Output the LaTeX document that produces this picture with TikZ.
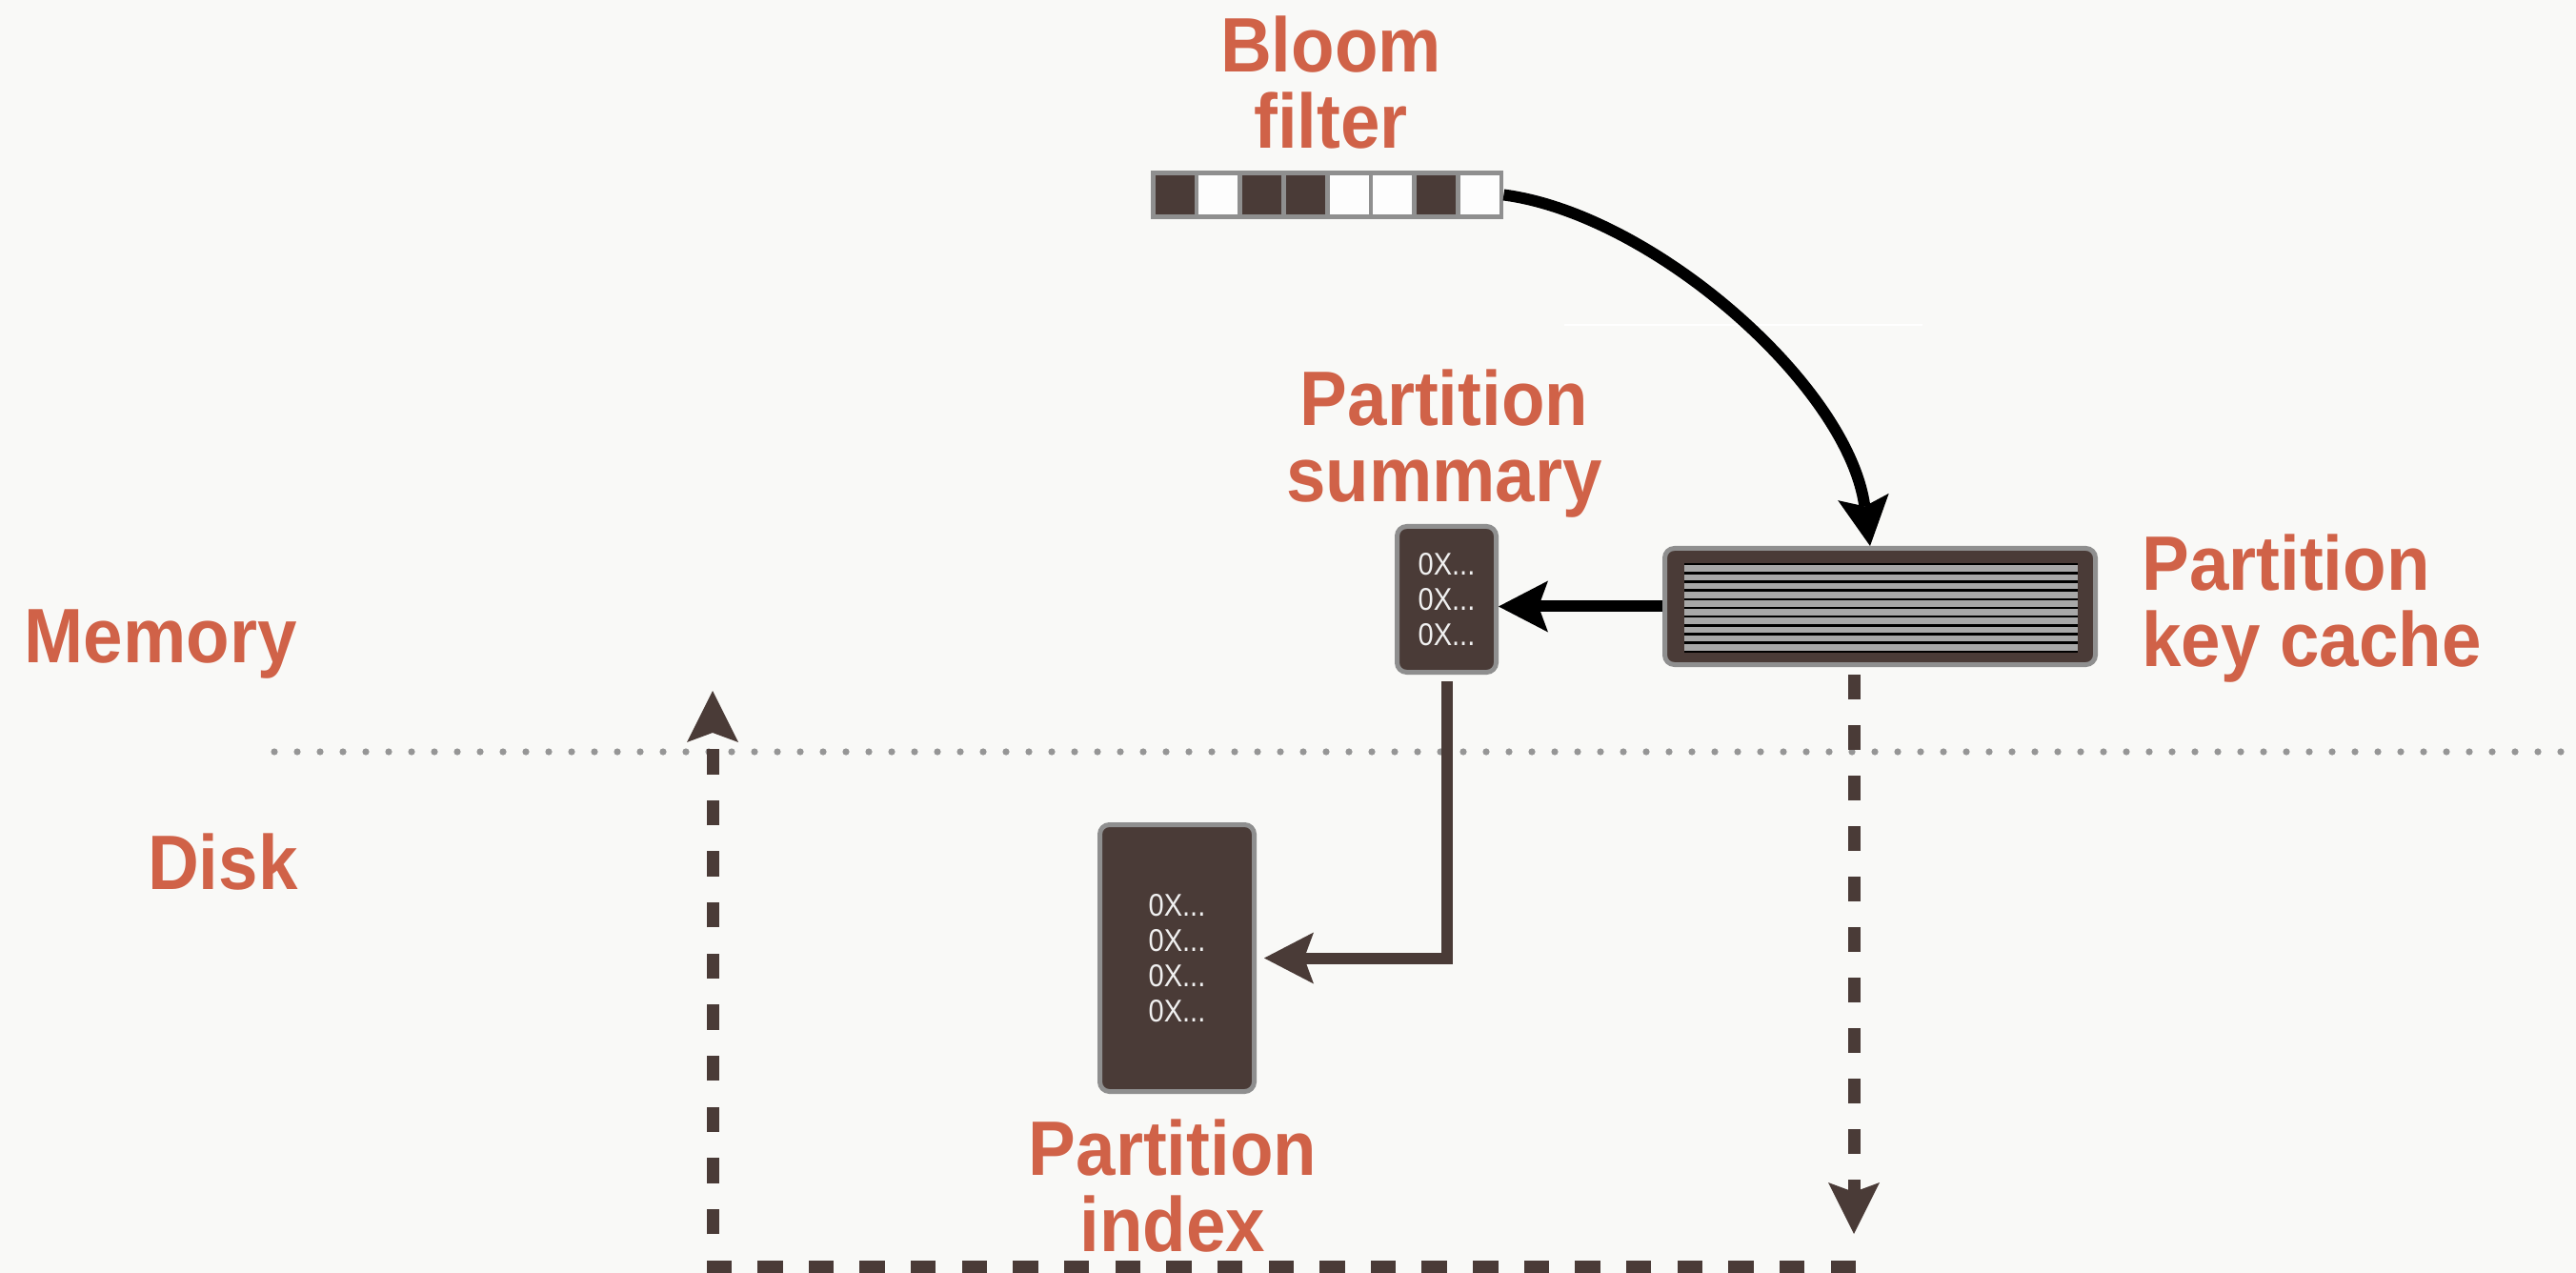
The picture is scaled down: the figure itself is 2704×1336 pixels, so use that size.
\documentclass[tikz,border=0pt]{standalone}
\usepackage{fontspec}
\usetikzlibrary{arrows.meta,calc}
\newfontfamily\labelfont[FakeStretch=0.92]{Liberation Sans}
\newfontfamily\hexfont[FakeStretch=0.88]{Liberation Sans}
\definecolor{paper}{RGB}{249,249,247}
\definecolor{labelred}{RGB}{208,98,72}
\definecolor{boxdark}{RGB}{74,59,55}
\definecolor{rim}{RGB}{143,143,143}
\definecolor{stripe}{RGB}{168,168,168}
\definecolor{dotgray}{RGB}{150,150,150}
\definecolor{cellwhite}{RGB}{253,253,253}
\definecolor{hexwhite}{RGB}{240,240,240}

\begin{document}
\begin{tikzpicture}[x=0.5pt,y=-0.5pt,
  caption/.style={font=\labelfont\bfseries\fontsize{40.5pt}{40pt}\selectfont,
    text=labelred, inner sep=0pt},
  store/.style={draw=rim, fill=boxdark, line width=2.5pt, rounded corners=5pt,
    inner sep=0pt, text=hexwhite, align=center,
    font=\hexfont\fontsize{16.5pt}{18.5pt}\selectfont},
  solidarrow/.style={draw=black, line width=6pt,
    -{Stealth[length=26pt,width=27pt,inset=5pt,line width=0pt]}},
  linkarrow/.style={draw=boxdark, line width=6pt,
    -{Stealth[length=26pt,width=27pt,inset=5pt,line width=0pt]}},
  dasharrow/.style={draw=boxdark, line width=6.5pt, dash pattern=on 13pt off 13.5pt,
    -{Stealth[length=27pt,width=27pt,inset=5pt,line width=0pt]}}]

% page
\fill[paper] (0,0) rectangle (2704,1336);
\useasboundingbox (0,0) rectangle (2704,1336);

% memory / disk boundary, a row of dots
\foreach \x in {288,312,...,2704}
  \fill[dotgray] (\x,789) circle (3.6);
\draw[white, line width=1pt] (1642,341) -- (2018,341);

% captions
\node[caption, anchor=base east] (memory) at (312,696) {Memory};
\node[caption, anchor=base east] (disk) at (313,933) {Disk};
\node[caption, anchor=north, align=center] (bloomlabel) at (1397,16) {Bloom\\filter};
\node[caption, anchor=north, align=center] (summarylabel) at (1516,387) {Partition\\summary};
\node[caption, anchor=north west, align=left] (cachelabel) at (2248,560) {Partition\\key cache};
\node[caption, anchor=north, align=center] (indexlabel) at (1231,1174) {Partition\\index};

% bloom filter bit array
\node[fill=rim, minimum width=185pt, minimum height=25.5pt, inner sep=0pt] (bloom) at (1393,204.5) {};
\foreach \c [count=\i from 0] in {boxdark,cellwhite,boxdark,boxdark,cellwhite,cellwhite,boxdark,cellwhite}
  \fill[\c] (1212.7+45.7*\i,183.7) rectangle ++(41,41);

% partition key cache with its rows
\node[store, minimum width=226pt, minimum height=61pt] (cache) at (1973.5,636.5) {};
\fill[black] (1768,591) rectangle (2181,685);
\foreach \k in {0,...,9}
  \fill[stripe] (1768,593.5+9.15*\k) rectangle (2181,600.15+9.15*\k);

% partition summary and partition index
\node[store, minimum width=52pt, minimum height=76.5pt] (summary) at (1518.5,629)
  {0X...\\0X...\\0X...};
\node[store, minimum width=81pt, minimum height=140pt] (index) at (1235.5,1005.5)
  {0X...\\0X...\\0X...\\0X...};

% lookups
\draw[solidarrow] (bloom.east) .. controls (1735,225) and (1940,405) .. ([xshift=-5.25pt]cache.north);
\draw[solidarrow] (cache.west) -- (summary.east |- cache.west);
\draw[linkarrow, shorten <=3.5pt, shorten >=4pt] (summary.south) |- (index.east);

% disk round trip
\coordinate (diskdrop) at (1946,1295);
\coordinate (diskreturn) at (1948,1329);
\coordinate (memrise) at (748,725);
\draw[dasharrow, shorten <=4pt] (cache.south -| diskdrop) -- (diskdrop);
\draw[dasharrow, dash pattern=on 13.2pt off 13.62pt] (diskreturn) -| (memrise);
\end{tikzpicture}
\end{document}
